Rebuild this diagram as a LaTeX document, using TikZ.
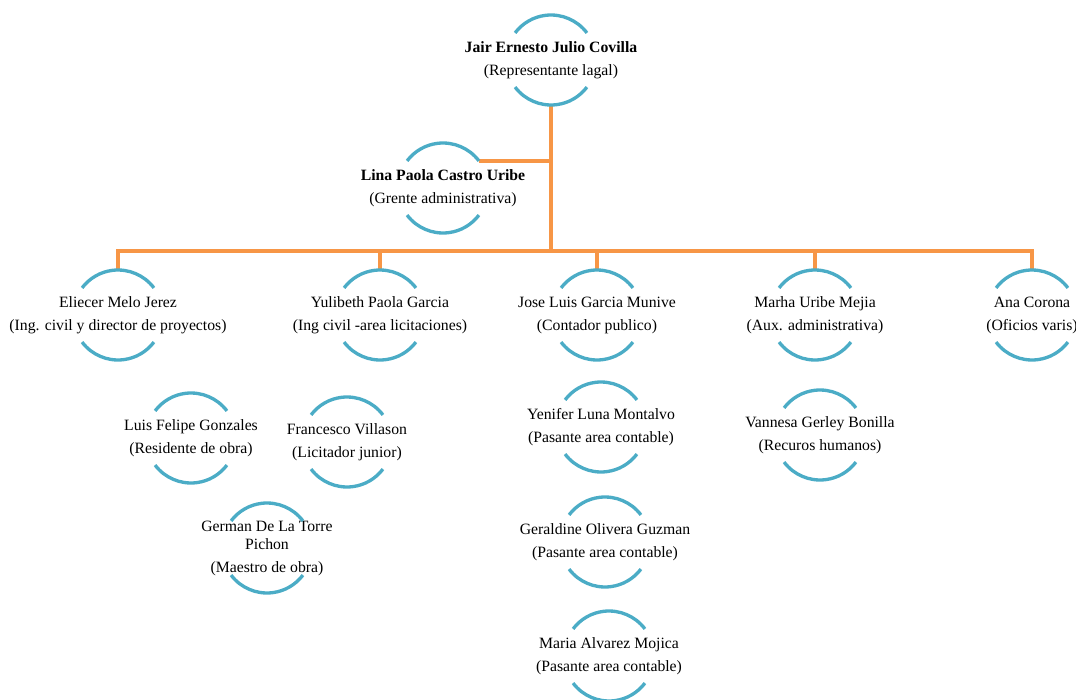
\documentclass[tikz,border=0pt]{standalone}
\usepackage{fontspec}
\setmainfont{Liberation Serif}
\definecolor{linkorange}{HTML}{F79646}
\definecolor{ringblue}{HTML}{4BACC6}

\begin{document}
\begin{tikzpicture}[x=0.75pt, y=0.75pt,
    member/.style={circle, minimum size=67.5pt, inner sep=0pt, outer sep=0pt},
    caption/.style={align=center, inner sep=0pt, font=\fontsize{11.8}{17.25}\selectfont},
    ring/.style={ringblue, line width=2.5pt},
    link/.style={linkorange, line width=2.8pt}]
    \useasboundingbox (0,0) rectangle (1076,-700);

    % people
    \node[member, label={[caption]center:{\textbf{Jair Ernesto Julio Covilla}\\(Representante lagal)}}] (jair) at (551,-60) {};
    \node[member, label={[caption]center:{\textbf{Lina Paola Castro Uribe}\\(Grente administrativa)}}] (lina) at (443,-188) {};
    \node[member, label={[caption]center:{Eliecer Melo Jerez\\(Ing. civil y director de proyectos)}}] (eliecer) at (118,-315) {};
    \node[member, label={[caption]center:{Yulibeth Paola Garcia\\(Ing civil -area licitaciones)}}] (yuli) at (380,-315) {};
    \node[member, label={[caption]center:{Jose Luis Garcia Munive\\(Contador publico)}}] (jose) at (597,-315) {};
    \node[member, label={[caption]center:{Marha Uribe Mejia\\(Aux. administrativa)}}] (marha) at (815,-315) {};
    \node[member, label={[caption]center:{Ana Corona\\(Oficios varis)}}] (ana) at (1032,-315) {};
    \node[member, label={[caption]center:{Luis Felipe Gonzales\\(Residente de obra)}}] (luis) at (191,-438) {};
    \node[member, label={[caption]center:{Francesco Villason\\(Licitador junior)}}] (fran) at (347,-442) {};
    \node[member, label={[caption]center:{German De La Torre\\[-3.75pt]Pichon\\(Maestro de obra)}}] (german) at (267,-548) {};
    \node[member, label={[caption]center:{Yenifer Luna Montalvo\\(Pasante area contable)}}] (yeni) at (601,-427) {};
    \node[member, label={[caption]center:{Geraldine Olivera Guzman\\(Pasante area contable)}}] (geral) at (605,-542) {};
    \node[member, label={[caption]center:{Maria Alvarez Mojica\\(Pasante area contable)}}] (maria) at (609,-656) {};
    \node[member, label={[caption]center:{Vannesa Gerley Bonilla\\(Recuros humanos)}}] (vannesa) at (820,-435) {};

    % connectors
    \coordinate (bus) at (551,-251);
    \draw[link]
    (jair.south) -- (bus)
    (lina.37) -- (lina.37 -| bus)
    (eliecer.north) |- (bus) -| (ana.north)
    (yuli.north) -- (yuli.north |- bus)
    (jose.north) -- (jose.north |- bus)
    (marha.north) -- (marha.north |- bus)
    ;

    % arcs round each name
    \foreach \n in {jair, lina, eliecer, yuli, jose, marha, ana, luis, fran, german, yeni, geral, maria, vannesa} {
        \draw[ring] (\n.37) arc[start angle=37, end angle=143, radius=33.75pt];
        \draw[ring] (\n.217) arc[start angle=217, end angle=323, radius=33.75pt];
    }
\end{tikzpicture}
\end{document}
